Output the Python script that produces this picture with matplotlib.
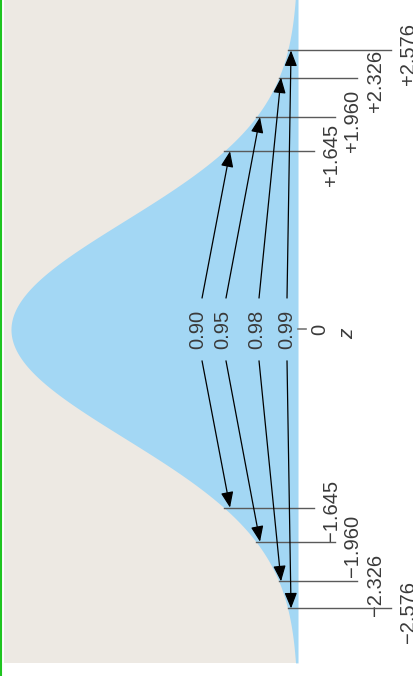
import numpy as np
import matplotlib
matplotlib.use("Agg")
import matplotlib.pyplot as plt
from matplotlib.patches import Rectangle

plt.rcParams['font.family'] = ['Liberation Sans', 'DejaVu Sans']

# data
conf_levels = ['0.90', '0.95', '0.98', '0.99']
z_crit = [1.645, 1.960, 2.326, 2.576]
upper_labels = ['+1.645', '+1.960', '+2.326', '+2.576']
lower_labels = ['\u22121.645', '\u22121.960', '\u22122.326', '\u22122.576']

# layout (density units along x, z along y)
label_x = [0.139, 0.104, 0.057, 0.0153]      # where the confidence labels sit
arrow_start = [0.1334, 0.1001, 0.0542, 0.0153]
arrow_tip = [0.0945, 0.0528, 0.0236, 0.0097]
line_end = [-0.022, -0.051, -0.082, -0.129]

BLUE = '#a3d7f4'
BEIGE = '#ede9e3'
TEXT = '#3a3a3a'
FS = 14.5


def pdf(z):
    return np.exp(-z ** 2 / 2) / np.sqrt(2 * np.pi)


fig = plt.figure(figsize=(4.14, 6.76), dpi=100)
ax = fig.add_axes([0, 0, 1, 1])
ax.set_xlim(0.4142, -0.1612)
ax.set_ylim(-3.2, 3.042)
ax.axis('off')

ax.add_patch(Rectangle((0, -3.079), 0.4086, 6.3, facecolor=BEIGE, edgecolor='none', zorder=0))
ax.axvline(0.4128, color='#1fc41f', lw=1.5, zorder=1)

z = np.linspace(-3.079, 3.1, 800)
ax.fill_betweenx(z, 0, pdf(z), color=BLUE, lw=0, zorder=1)

# tick at zero and axis label
ax.plot([0, -0.011], [0, 0], color='#777777', lw=1.2, zorder=2)
ax.text(-0.0306, 0, '0', rotation=90, ha='center', va='center', fontsize=FS, color=TEXT)
ax.text(-0.0695, -0.04, 'z', rotation=90, ha='center', va='center', fontsize=FS + 0.5,
        style='italic', color=TEXT)

for i in range(len(z_crit)):
    zc = z_crit[i]
    for sign, lab in ((1, upper_labels[i]), (-1, lower_labels[i])):
        ax.plot([pdf(zc), line_end[i]], [sign * zc, sign * zc], color='#5a5a5a', lw=1.0, zorder=3)
        ax.text(line_end[i] - 0.025, sign * zc - 0.035, lab, rotation=90, ha='center', va='center',
                fontsize=FS, color=TEXT)
        ax.annotate('', xy=(arrow_tip[i], sign * zc), xytext=(arrow_start[i], sign * 0.29),
                    arrowprops=dict(arrowstyle='-|>,head_length=0.5,head_width=0.2',
                                    mutation_scale=19, color='black', lw=0.9,
                                    shrinkA=0, shrinkB=0), zorder=4)
    ax.text(label_x[i], 0, conf_levels[i], rotation=90, ha='center', va='center',
            fontsize=FS, color=TEXT)

fig.savefig('out.png', dpi=100, facecolor='white')
